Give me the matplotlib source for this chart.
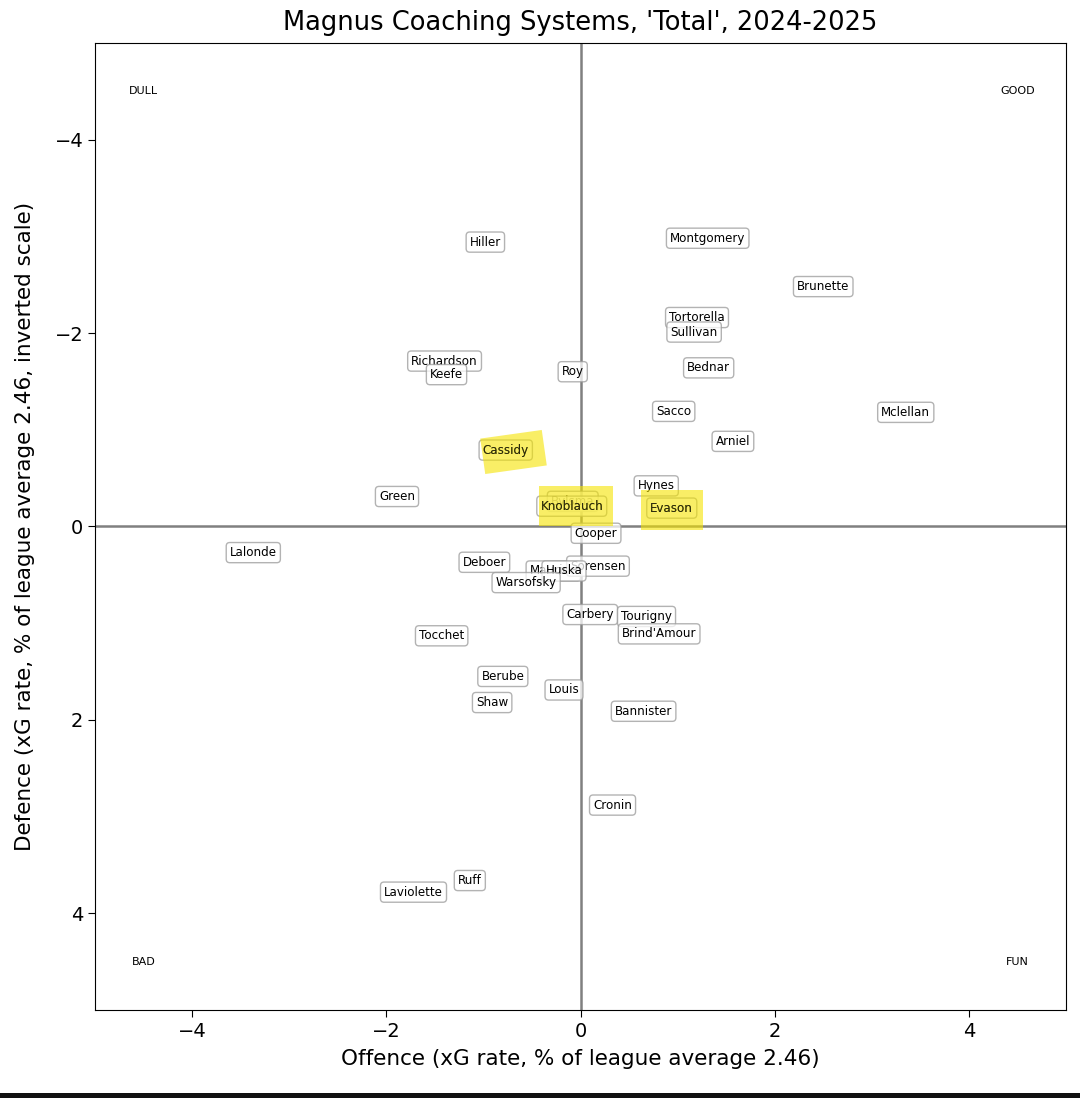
import matplotlib
matplotlib.use("Agg")
import matplotlib.pyplot as plt
from matplotlib.patches import Rectangle
import matplotlib.transforms as mtransforms

coaches = ["Hiller", "Montgomery", "Brunette", "Tortorella", "Sullivan",
           "Richardson", "Keefe", "Roy", "Bednar", "Sacco", "Mclellan",
           "Arniel", "Cassidy", "Hynes", "Green", "Bylsma", "Knoblauch",
           "Evason", "Cooper", "Lalonde", "Deboer", "Maurice", "Sorensen",
           "Huska", "Warsofsky", "Carbery", "Tourigny", "Brind'Amour",
           "Tocchet", "Berube", "Louis", "Shaw", "Bannister", "Cronin",
           "Ruff", "Laviolette"]
offence = [-0.98, 1.31, 2.50, 1.20, 1.17,
           -1.40, -1.38, -0.08, 1.32, 0.96, 3.35,
           1.57, -0.77, 0.78, -1.89, -0.08, -0.09,
           0.94, 0.16, -3.37, -0.99, -0.28, 0.18,
           -0.17, -0.56, 0.10, 0.68, 0.81,
           -1.43, -0.80, -0.17, -0.91, 0.65, 0.33,
           -1.14, -1.72]
defence = [-2.94, -2.98, -2.48, -2.16, -2.01,
           -1.71, -1.57, -1.60, -1.64, -1.19, -1.18,
           -0.88, -0.79, -0.42, -0.31, -0.26, -0.21,
           -0.19, 0.07, 0.27, 0.37, 0.46, 0.41,
           0.46, 0.58, 0.91, 0.93, 1.11,
           1.13, 1.55, 1.69, 1.82, 1.91, 2.88,
           3.66, 3.78]
highlighted = ["Cassidy", "Knoblauch", "Evason"]
corner_labels = ["DULL", "GOOD", "BAD", "FUN"]
corner_x = [-4.5, 4.5, -4.5, 4.5]
corner_y = [-4.5, -4.5, 4.5, 4.5]
xticks = [-4, -2, 0, 2, 4]
yticks = [-4, -2, 0, 2, 4]

fig = plt.figure(figsize=(10.8, 10.98), dpi=100)
ax = fig.add_axes([0.088, 0.080, 0.899, 0.881])
ax.set_xlim(-5, 5)
ax.set_ylim(5, -5)
ax.set_xticks(xticks)
ax.set_yticks(yticks)
ax.tick_params(labelsize=14, length=5)
ax.axhline(0, color="#808080", lw=1.8, zorder=1)
ax.axvline(0, color="#808080", lw=1.8, zorder=1)

for name, x, y in zip(coaches, offence, defence):
    ax.text(x, y, name, ha="center", va="center", fontsize=8.6, zorder=3,
            bbox=dict(boxstyle="round,pad=0.3", fc="white", ec="#9a9a9a",
                      lw=1, alpha=0.75))

for lab, x, y in zip(corner_labels, corner_x, corner_y):
    ax.text(x, y, lab, ha="center", va="center", fontsize=8)

# yellow highlighter marks over selected names
hl_size = {"Cassidy": (0.64, 0.37, -8), "Knoblauch": (0.76, 0.41, 0),
           "Evason": (0.64, 0.41, 0)}
hl_shift = {"Cassidy": (0.08, 0.02), "Knoblauch": (0.04, 0.0),
            "Evason": (0.0, 0.02)}
for name in highlighted:
    i = coaches.index(name)
    w, h, ang = hl_size[name]
    dx, dy = hl_shift[name]
    cx, cy = offence[i] + dx, defence[i] + dy
    r = Rectangle((cx - w / 2, cy - h / 2), w, h, facecolor="#f5e400",
                  edgecolor="none", alpha=0.6, zorder=4)
    t = mtransforms.Affine2D().rotate_deg_around(cx, cy, ang) + ax.transData
    r.set_transform(t)
    ax.add_patch(r)
    ax.text(offence[i], defence[i], name, ha="center", va="center",
            fontsize=8.6, zorder=5, color="#2a2a10")

ax.set_title("Magnus Coaching Systems, 'Total', 2024-2025", fontsize=18.5,
             pad=9)
ax.set_xlabel("Offence (xG rate, % of league average 2.46)", fontsize=15.5,
              labelpad=6)
ax.set_ylabel("Defence (xG rate, % of league average 2.46, inverted scale)",
              fontsize=15.5, labelpad=14)

fig.patches.append(Rectangle((0, 0), 1, 5 / 1098, transform=fig.transFigure,
                             facecolor="#111111", edgecolor="none"))

fig.savefig("out.png", dpi=100)
